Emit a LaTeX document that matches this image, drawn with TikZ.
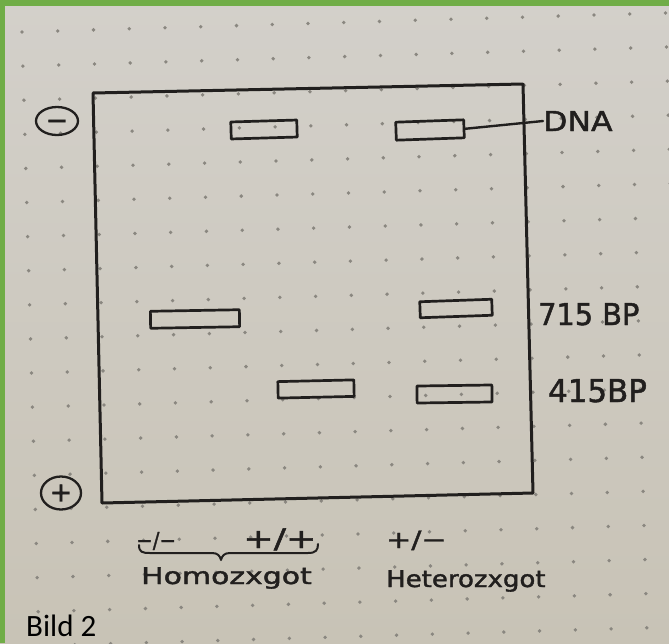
\documentclass[tikz,border=0pt]{standalone}
\usepackage{fontspec}
\setmainfont{DejaVu Sans}
\newfontfamily\handfont[FakeBold=1.5]{DejaVu Sans}
\newfontfamily\capfont{Carlito}
\usetikzlibrary{shapes.geometric}
\definecolor{wordgreen}{HTML}{70AD47}
\definecolor{paperT}{RGB}{211,208,202}
\definecolor{paperB}{RGB}{200,195,182}
\definecolor{dotc}{RGB}{138,135,128}
\definecolor{ink}{RGB}{33,31,30}
\tikzset{
  pen/.style={draw=ink, line width=3pt, line join=round, line cap=round},
  band/.style={draw=ink, line width=2.7pt, line join=round, rectangle, inner sep=0pt},
  pole/.style={draw=ink, ellipse, line width=2.3pt, inner sep=0pt},
  sign/.style={text=ink, inner sep=0pt, font=\handfont\fontsize{27}{30}\selectfont},
  hand/.style={text=ink, inner sep=0pt, anchor=base west},
  dotrow/.style={draw=dotc, line width=3.8pt, line cap=round, dash pattern=on 0pt off 35.765pt},
}
\begin{document}
\begin{tikzpicture}[x=1pt,y=-1pt]
\useasboundingbox (0,0) rectangle (669,643);
% paper
\shade[top color=paperT, bottom color=paperB] (0,0) rectangle (669,643);
\begin{scope}
\clip (0,0) rectangle (669,643);
\draw[dotrow] (-14.7,-1.04) -- (700.3,-22.24);
\draw[dotrow] (-13.75,33.06) -- (701.25,11.86);
\draw[dotrow] (-12.8,67.16) -- (702.2,45.96);
\draw[dotrow] (-11.85,101.26) -- (703.15,80.06);
\draw[dotrow] (-10.9,135.36) -- (704.1,114.16);
\draw[dotrow] (-9.95,169.46) -- (705.05,148.26);
\draw[dotrow] (-9.0,203.56) -- (706.0,182.36);
\draw[dotrow] (-8.05,237.66) -- (706.95,216.46);
\draw[dotrow] (-7.1,271.76) -- (707.9,250.56);
\draw[dotrow] (-6.15,305.86) -- (708.85,284.66);
\draw[dotrow] (-5.2,339.96) -- (709.8,318.76);
\draw[dotrow] (-4.25,374.06) -- (710.75,352.86);
\draw[dotrow] (-3.3,408.16) -- (711.7,386.96);
\draw[dotrow] (-2.35,442.26) -- (712.65,421.06);
\draw[dotrow] (-1.4,476.36) -- (713.6,455.16);
\draw[dotrow] (-0.45,510.46) -- (714.55,489.26);
\draw[dotrow] (0.5,544.56) -- (715.5,523.36);
\draw[dotrow] (1.45,578.66) -- (716.45,557.46);
\draw[dotrow] (2.4,612.76) -- (717.4,591.56);
\draw[dotrow] (3.35,646.86) -- (718.35,625.66);
\draw[dotrow] (4.3,680.96) -- (719.3,659.76);
\end{scope}
% frame
\fill[wordgreen] (0,0) rectangle (669,6);
\fill[wordgreen] (0,0) rectangle (5,643);
% gel
\coordinate (gTL) at (93,93);
\coordinate (gTR) at (523,84);
\coordinate (gBR) at (533,493);
\coordinate (gBL) at (102,503);
\draw[pen] (gTL) -- (gTR) -- (gBR) -- (gBL) -- cycle;
% poles
\node[pole, minimum width=42, minimum height=28] (neg) at (57,121) {};
\node[sign] at (neg) {−\vphantom{+}};
\node[pole, minimum width=40, minimum height=33] (pos) at (61,493) {};
\node[sign] at (pos) {+};
% bands
\node[band, minimum width=66, minimum height=17, rotate=1.7] (bD2) at (264,129.5) {};
\node[band, minimum width=68, minimum height=18, rotate=2] (bD3) at (430,130) {};
\node[band, minimum width=89, minimum height=17, rotate=1] (bL1) at (195,319) {};
\node[band, minimum width=72, minimum height=16, rotate=2] (bL3) at (456,308.5) {};
\node[band, minimum width=76, minimum height=16.5, rotate=1.3] (bS2) at (316,389) {};
\node[band, minimum width=75, minimum height=17, rotate=0.8] (bS3) at (454.5,394) {};
% labels right
\node[hand, font=\handfont\fontsize{27.4}{30}\selectfont] (dna) at (543,131) {\scalebox{1.15}[1]{DNA}};
\draw[pen, line width=2.4pt] (bD3.east) -- (dna.west);
\node[hand, font=\handfont\fontsize{30}{34}\selectfont] (t715) at (538,325) {\scalebox{0.96}[1]{715 BP}};
\node[hand, font=\handfont\fontsize{31.5}{34}\selectfont] (t415) at (548,402) {\scalebox{0.98}[1]{415BP}};
% genotypes
\node[hand, font=\handfont\fontsize{22}{26}\selectfont] (gMM) at (136,548) {\scalebox{0.9}[1]{−/−}};
\node[hand, font=\handfont\fontsize{27}{30}\selectfont] (gPP) at (243,548) {\scalebox{1.35}[1]{+/+}};
\node[hand, font=\handfont\fontsize{24}{28}\selectfont] (gPM) at (386,548) {\scalebox{1.25}[1]{+/−}};
\coordinate (brL) at (139,545);
\coordinate (brM) at (221,560);
\coordinate (brR) at (318,544);
\draw[pen, line width=2pt] (brL) .. controls (139,552) and (142,553) .. (150,553) -- (212,553)
  .. controls (218,553) and (220,556) .. (brM)
  .. controls (222,556) and (224,553) .. (230,553) -- (308,553)
  .. controls (316,553) and (318,550) .. (brR);
\node[hand, font=\handfont\fontsize{23}{26}\selectfont] (homo) at (141,584) {\scalebox{1.3}[1]{Homozxgot}};
\node[hand, font=\handfont\fontsize{23}{26}\selectfont] (hetero) at (386,587) {\scalebox{1.13}[1]{Heterozxgot}};
% caption
\node[anchor=base west, inner sep=0pt, text=black, font=\capfont\fontsize{31}{36}\selectfont] (bild) at (26,636) {Bild 2};
\end{tikzpicture}
\end{document}
